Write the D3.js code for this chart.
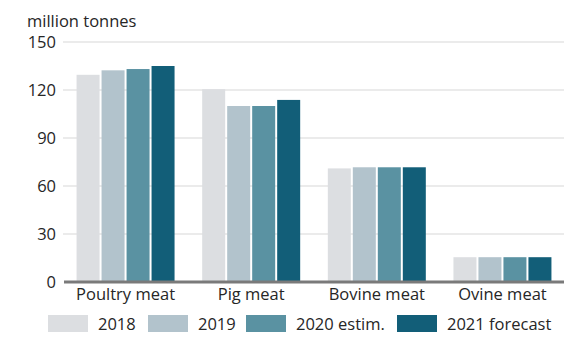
<!DOCTYPE html>
<html>
<head>
<meta charset="utf-8">
<script src="https://cdn.jsdelivr.net/npm/d3@7"></script>
<style>
  html, body { margin: 0; padding: 0; background: #fff; }
  svg { display: block; }
  text { font-family: "Open Sans", "Noto Sans", sans-serif; }
</style>
</head>
<body>
<div id="chart"></div>
<script>
// World meat production by type, million tonnes
const categories = ["Poultry meat", "Pig meat", "Bovine meat", "Ovine meat"];
const seriesNames = ["2018", "2019", "2020 estim.", "2021 forecast"];
const values2018 = [129.5, 120.5, 71, 15.5];
const values2019 = [132.3, 110, 71.7, 15.5];
const values2020 = [133.1, 110, 71.7, 15.5];
const values2021 = [135, 113.8, 71.7, 15.5];
const yTicks = [0, 30, 60, 90, 120, 150];
const colors = ["#dcdee1", "#b2c3cc", "#5a92a2", "#125e78"];

const seriesValues = [values2018, values2019, values2020, values2021];
const rows = categories.map((c, i) => ({
  category: c,
  values: seriesNames.map((s, j) => ({ key: s, value: seriesValues[j][i], idx: j }))
}));

const width = 564, height = 344;
const fontSize = 16.5;
const textColor = "#262626";
const svg = d3.select("#chart").append("svg")
  .attr("width", width).attr("height", height);

const x0 = d3.scaleBand().domain(categories).range([64, 564])
  .paddingInner(0.22).paddingOuter(0.1);
const x1 = d3.scaleBand().domain(seriesNames).range([0, x0.bandwidth()])
  .paddingInner(0.08);
const y = d3.scaleLinear().domain([0, 150]).range([282, 42]);

// Horizontal gridlines
svg.append("g").selectAll("line").data(yTicks.filter(t => t > 0)).join("line")
  .attr("x1", 63).attr("x2", 564)
  .attr("y1", d => y(d)).attr("y2", d => y(d))
  .attr("stroke", "#e4e4e4").attr("stroke-width", 1.5);

// Y-axis tick labels
const yAxis = d3.axisLeft(y).tickValues(yTicks).tickSize(0).tickPadding(0);
const yg = svg.append("g").attr("transform", "translate(56,0)").call(yAxis);
yg.select(".domain").remove();
yg.selectAll("text")
  .attr("font-size", fontSize).attr("fill", textColor)
  .attr("font-family", "'Open Sans', 'Noto Sans', sans-serif");

// Unit label
svg.append("text").attr("x", 27).attr("y", 27)
  .attr("font-size", fontSize).attr("fill", textColor)
  .text("million tonnes");

// Bars
svg.append("g").selectAll("g").data(rows).join("g")
  .attr("transform", d => `translate(${x0(d.category)},0)`)
  .selectAll("rect").data(d => d.values).join("rect")
  .attr("x", d => x1(d.key))
  .attr("width", x1.bandwidth())
  .attr("y", d => y(d.value))
  .attr("height", d => y(0) - y(d.value))
  .attr("fill", d => colors[d.idx]);

// Baseline
svg.append("line").attr("x1", 64).attr("x2", 564)
  .attr("y1", y(0)).attr("y2", y(0))
  .attr("stroke", "#7a7a7a").attr("stroke-width", 3);

// Category labels
const xAxis = d3.axisBottom(x0).tickSize(0).tickPadding(0);
const xg = svg.append("g").attr("transform", `translate(0,${y(0) + 6})`).call(xAxis);
xg.select(".domain").remove();
xg.selectAll("text")
  .attr("font-size", fontSize).attr("fill", textColor)
  .attr("font-family", "'Open Sans', 'Noto Sans', sans-serif");

// Legend
const legendX = [48, 148, 246, 397];
const legend = svg.append("g").selectAll("g").data(seriesNames).join("g")
  .attr("transform", (d, i) => `translate(${legendX[i]},315)`);
legend.append("rect").attr("width", 40).attr("height", 17)
  .attr("fill", (d, i) => colors[i]);
legend.append("text").attr("x", 50).attr("y", 15)
  .attr("font-size", fontSize).attr("fill", textColor)
  .text(d => d);
</script>
</body>
</html>
